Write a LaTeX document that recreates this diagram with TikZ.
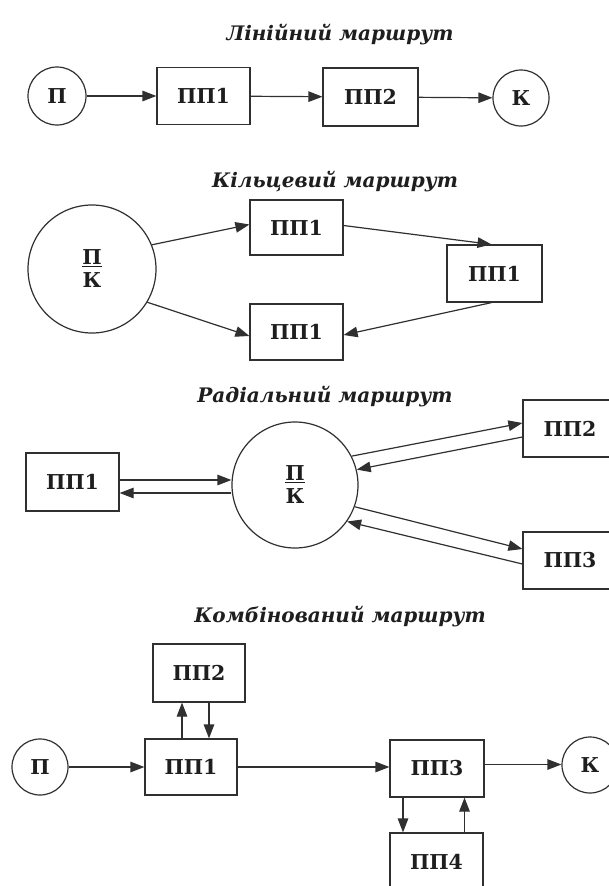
\documentclass[tikz,border=0pt]{standalone}
\usepackage{fontspec}
\setmainfont{DejaVu Serif}
\usetikzlibrary{arrows.meta}
\definecolor{ink}{HTML}{303030}
\definecolor{txt}{HTML}{1E1E1E}
\tikzset{
  box/.style={draw=ink, line width=1.2pt, rectangle, inner sep=0pt, text=txt, font=\fontsize{20.5}{22}\selectfont\bfseries},
  stop/.style={draw=ink, line width=1.2pt, circle, inner sep=0pt, text=txt, font=\fontsize{20.5}{22}\selectfont\bfseries},
  hub/.style={stop, align=center, font=\fontsize{20.5}{23}\selectfont\bfseries},
  ttl/.style={text=txt, font=\fontsize{20}{22}\selectfont\bfseries\itshape},
  arr/.style={draw=ink, line width=1.2pt, -{Triangle[length=14pt,width=10.5pt]}}
}
\begin{document}
\begin{tikzpicture}[x=1pt,y=-1pt]
\clip (0,0) rectangle (609,886);
\fill[white] (0,0) rectangle (609,886);

% ---- Linear route
\node[ttl] (t1) at (340,35) {Лінійний маршрут};
\node[stop, minimum size=58pt] (P1) at (57,96) {П};
\node[box, minimum width=93pt, minimum height=57pt] (A1) at (203.5,96) {ПП1};
\node[box, minimum width=95pt, minimum height=58pt] (A2) at (370.5,97) {ПП2};
\node[stop, minimum size=56pt] (K1) at (521,98) {К};
\draw[arr] (P1) -- (A1);
\draw[arr] (A1) -- (A2);
\draw[arr] (A2) -- (K1);

% ---- Ring route
\node[ttl] (t2) at (335,182) {Кільцевий маршрут};
\node[hub, minimum size=128pt] (C2) at (92,269) {\underline{П}\\К};
\node[box, minimum width=93pt, minimum height=55pt] (T2) at (296.5,227.5) {ПП1};
\node[box, minimum width=95pt, minimum height=57pt] (R2) at (494.5,273.5) {ПП1};
\node[box, minimum width=93pt, minimum height=56pt] (B2) at (296.5,332) {ПП1};
\draw[arr] (C2.22) -- ([yshift=3pt]T2.west);
\draw[arr] ([yshift=2pt]T2.east) -- ([xshift=-3pt]R2.north);
\draw[arr] ([xshift=-3pt]R2.south) -- ([yshift=-3pt]B2.east);
\draw[arr] (C2.-31) -- ([yshift=-4pt]B2.west);

% ---- Radial route
\node[ttl] (t3) at (325,397) {Радіальний маршрут};
\node[box, minimum width=93pt, minimum height=58pt] (S1) at (72.5,482) {ПП1};
\node[hub, minimum size=126pt] (C3) at (295,485) {\underline{П}\\К};
\node[box, minimum width=94pt, minimum height=57pt] (S2) at (570,428.5) {ПП2};
\node[box, minimum width=94pt, minimum height=57pt] (S3) at (570,560.5) {ПП3};
\draw[arr] ([yshift=2pt]S1.east) -- ([yshift=5pt]C3.west);
\draw[arr] ([yshift=-8pt]C3.west) -- ([yshift=-11pt]S1.east);
\draw[arr] (C3.27) -- ([yshift=5.5pt]S2.west);
\draw[arr] ([yshift=-8.5pt]S2.west) -- (C3.14);
\draw[arr] (C3.-20) -- ([yshift=11.5pt]S3.west);
\draw[arr] ([yshift=-3.5pt]S3.west) -- (C3.-35);

% ---- Combined route
\node[ttl] (t4) at (340,617) {Комбінований маршрут};
\node[stop, minimum size=56pt] (P4) at (40,767) {П};
\node[box, minimum width=92pt, minimum height=56pt] (Q1) at (191,767) {ПП1};
\node[box, minimum width=92pt, minimum height=58pt] (Q2) at (199,673) {ПП2};
\node[box, minimum width=94pt, minimum height=57pt] (Q3) at (437,768.5) {ПП3};
\node[box, minimum width=93pt, minimum height=57pt] (Q4) at (436.5,861.5) {ПП4};
\node[stop, minimum size=56pt] (K4) at (590,765) {К};
\coordinate (u1) at ([xshift=-9pt]Q1.north);
\coordinate (d1) at ([xshift=10pt]Q2.south);
\coordinate (d3) at ([xshift=-34pt]Q3.south);
\coordinate (u3) at ([xshift=28pt]Q4.north);
\draw[arr] (P4) -- (P4 -| Q1.west);
\draw[arr] (u1) -- (u1 |- Q2.south);
\draw[arr] (d1) -- (d1 |- Q1.north);
\draw[arr] (Q1.east) -- (Q1.east -| Q3.west);
\draw[arr] ([yshift=4pt]Q3.east) -- ([yshift=4pt]Q3.east -| K4.west);
\draw[arr] (d3) -- (d3 |- Q4.north);
\draw[arr] (u3) -- (u3 |- Q3.south);
\end{tikzpicture}
\end{document}
